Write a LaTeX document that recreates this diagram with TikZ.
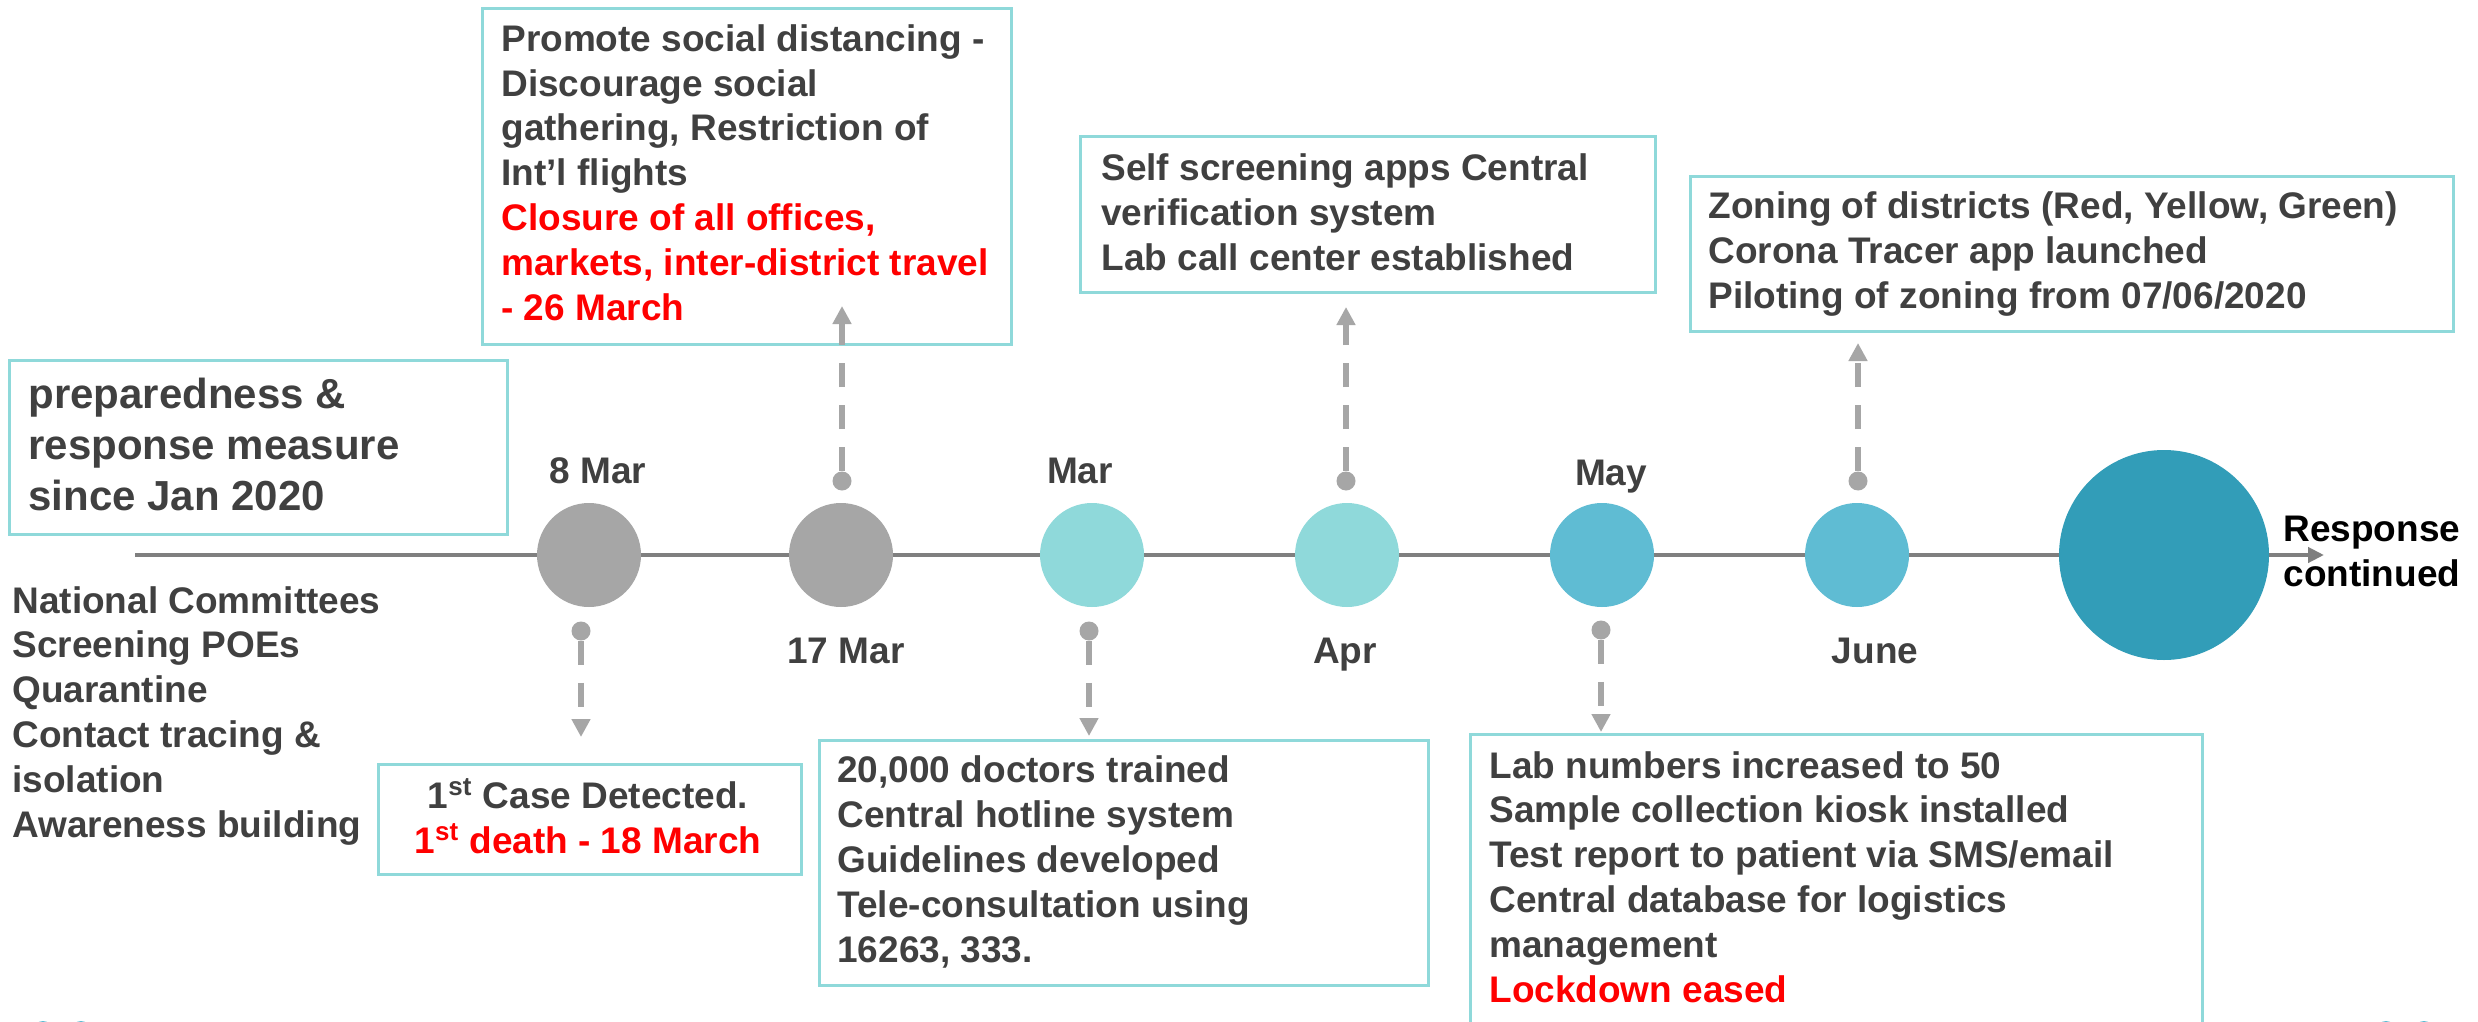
\documentclass[tikz,border=0pt]{standalone}
\usepackage{fontspec}
\setmainfont{Liberation Sans}
\usetikzlibrary{arrows.meta}
\definecolor{txt}{HTML}{404040}
\definecolor{gcirc}{HTML}{A6A6A6}
\definecolor{lteal}{HTML}{8FD9DA}
\definecolor{mteal}{HTML}{5FBCD3}
\definecolor{dteal}{HTML}{329DB8}
\definecolor{boxc}{HTML}{8FD9DA}
\definecolor{linec}{HTML}{7F7F7F}
\definecolor{redt}{HTML}{FF0000}
\begin{document}
\begin{tikzpicture}[x=0.5pt,y=-0.5pt,
  body/.style={font=\bfseries\fontsize{18.5}{22.4}\selectfont, text=txt, inner sep=0pt, align=left, anchor=base west},
  big/.style={font=\bfseries\fontsize{21}{25.5}\selectfont, text=txt, inner sep=0pt, align=left, anchor=base west},
  lbl/.style={font=\bfseries\fontsize{18.5}{22.4}\selectfont, text=txt, inner sep=0pt, anchor=base},
  boxnode/.style={draw=boxc, line width=1.5pt, inner sep=0pt, anchor=north west},
  ev/.style={circle, inner sep=0pt, minimum size=52pt, draw=none},
  dotnode/.style={circle, inner sep=0pt, minimum size=9.5pt, fill=gcirc, draw=none},
  conn/.style={draw=gcirc, line width=3pt, dash pattern=on 12pt off 9pt, -{Triangle[length=9pt,width=9pt]}},
  red/.style={text=redt}
]
\clip (0,0) rectangle (2478,1022);
\fill[white] (0,0) rectangle (2478,1022);

% timeline
\coordinate (tl0) at (135,555);
\coordinate (tl1) at (2324,555);
\draw[line width=2.2pt, draw=linec, -{Triangle[length=8pt,width=7.5pt]}] (tl0) -- (tl1);

% event circles
\node[ev, fill=gcirc] (c1) at (589,555) {};
\node[ev, fill=gcirc] (c2) at (841,555) {};
\node[ev, fill=lteal] (c3) at (1092,555) {};
\node[ev, fill=lteal] (c4) at (1347,555) {};
\node[ev, fill=mteal] (c5) at (1602,555) {};
\node[ev, fill=mteal] (c6) at (1857,555) {};
\node[circle, inner sep=0pt, minimum size=105pt, fill=dteal] (c7) at (2164,555) {};

% labels
\node[lbl] (l1) at (598,483) {8 Mar};
\node[lbl] (l3) at (1080,483) {Mar};
\node[lbl] (l5) at (1611,485) {May};
\node[lbl] (l2) at (846,663) {17 Mar};
\node[lbl] (l4) at (1345,663) {Apr};
\node[lbl] (l6) at (1875,663) {June};
\node[body, text=black] (resp) at (2283,586) {Response\\continued};

% boxes
\node[boxnode, minimum width=249pt, minimum height=87pt] (bprep) at (8,359) {};
\node[boxnode, minimum width=264.5pt, minimum height=168pt] (bprom) at (481,7) {};
\node[boxnode, minimum width=287.5pt, minimum height=78pt] (bself) at (1079,135) {};
\node[boxnode, minimum width=381.5pt, minimum height=77.5pt] (bzone) at (1689,175) {};
\node[boxnode, minimum width=211.5pt, minimum height=55pt] (bcase) at (377,763) {};
\node[boxnode, minimum width=304.5pt, minimum height=122.5pt] (bdoc) at (818,739) {};
\node[boxnode, minimum width=366pt, minimum height=160pt] (blab) at (1469,733) {};

% box texts (anchored at the baseline of the last line)
\node[big] (tprep) at (28,510) {preparedness \&\\response measure\\since Jan 2020};
\node[body] (tprom) at (501,320) {Promote social distancing -\\Discourage social\\gathering, Restriction of\\Int’l flights\\\textcolor{redt}{Closure of all offices,}\\\textcolor{redt}{markets, inter-district travel}\\\textcolor{redt}{- 26 March}};
\node[body] (tself) at (1101,270) {Self screening apps Central\\verification system\\Lab call center established};
\node[body] (tzone) at (1708,308) {Zoning of districts (Red, Yellow, Green)\\Corona Tracer app launched\\Piloting of zoning from 07/06/2020};
\node[body, align=center, anchor=base] (tcase) at (588,853) {1\textsuperscript{st} Case Detected.\\\textcolor{redt}{1\textsuperscript{st} death - 18 March}};
\node[body] (tdoc) at (837,962) {20,000 doctors trained\\Central hotline system\\Guidelines developed\\Tele-consultation using\\16263, 333.};
\node[body] (tlab) at (1489,1002) {Lab numbers increased to 50\\Sample collection kiosk installed\\Test report to patient via SMS/email\\Central database for logistics\\management\\\textcolor{redt}{Lockdown eased}};
\node[body] (tleft) at (12,837) {National Committees\\Screening POEs\\Quarantine\\Contact tracing \&\\isolation\\Awareness building};

% dots and connectors
\node[dotnode] (d1) at (581,631) {};
\coordinate (e1) at (581,737);
\draw[conn] (d1) -- (e1);
\node[dotnode] (d2) at (842,481) {};
\coordinate (e2) at (842,306);
\draw[conn] (d2) -- (e2);
\node[dotnode] (d3) at (1089,631) {};
\coordinate (e3) at (1089,736);
\draw[conn] (d3) -- (e3);
\node[dotnode] (d4) at (1346,481) {};
\coordinate (e4) at (1346,307);
\draw[conn] (d4) -- (e4);
\node[dotnode] (d5) at (1601,630) {};
\coordinate (e5) at (1601,732);
\draw[conn] (d5) -- (e5);
\node[dotnode] (d6) at (1858,481) {};
\coordinate (e6) at (1858,343);
\draw[conn] (d6) -- (e6);

% partial marks at bottom edge
\fill[mteal] (43,1031) circle (5pt);
\fill[mteal] (81,1031) circle (5pt);
\fill[mteal] (2386,1031) circle (5pt);
\fill[mteal] (2424,1031) circle (5pt);
\end{tikzpicture}
\end{document}
